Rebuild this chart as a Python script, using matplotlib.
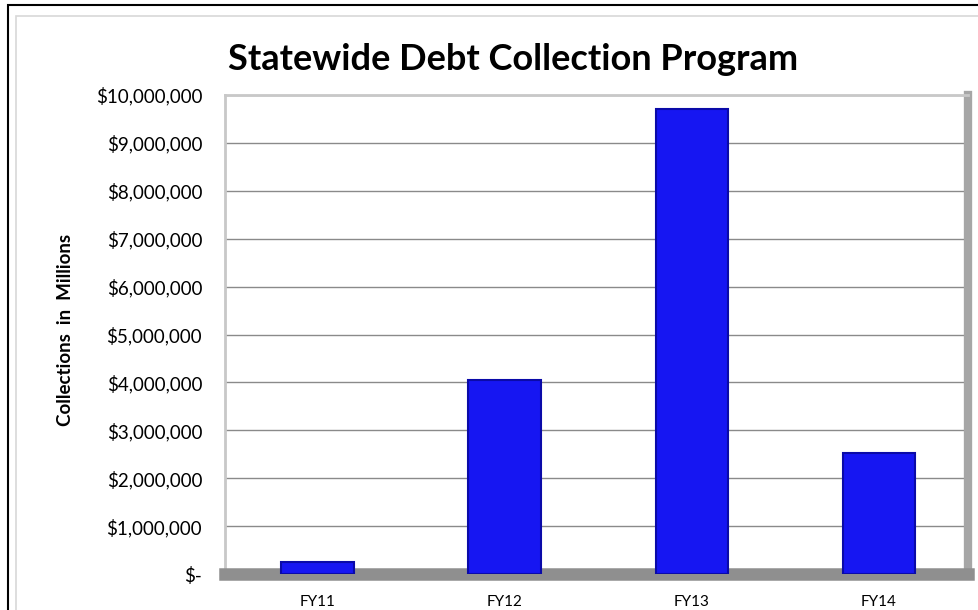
import matplotlib
matplotlib.use("Agg")
import matplotlib.pyplot as plt
from matplotlib.patches import Rectangle
from matplotlib.ticker import FuncFormatter

years = ["FY11", "FY12", "FY13", "FY14"]
collections = [250000, 4050000, 9700000, 2520000]

plt.rcParams["font.family"] = ["Lato", "DejaVu Sans"]


def money(value, pos):
    if value == 0:
        return "$-"
    return "${:,.0f}".format(value)


fig = plt.figure(figsize=(9.79, 6.10), dpi=100)

# outer frame of the pasted chart (runs off right and bottom)
fig.patches.append(Rectangle((8 / 979, -0.05), 1.1, 1 - 5 / 610 + 0.05,
                             transform=fig.transFigure, fill=False,
                             edgecolor="black", linewidth=1.5))
fig.patches.append(Rectangle((16 / 979, -0.05), 1.1, 1 - 16 / 610 + 0.05,
                             transform=fig.transFigure, fill=False,
                             edgecolor="#d8d8d8", linewidth=1.2))

ax = fig.add_axes([225 / 979, 1 - 574 / 610, 743 / 979, 479 / 610])

x = range(len(years))
ax.bar(x, collections, width=0.39, color="#1616f2", edgecolor="#0a0aa8",
       linewidth=1.5, zorder=3)

ax.set_xlim(-0.497, 3.476)
ax.set_ylim(0, 10000000)
ax.set_yticks(range(0, 10000001, 1000000))
ax.yaxis.set_major_formatter(FuncFormatter(money))
ax.set_xticks(list(x))
ax.set_xticklabels(years)
ax.tick_params(axis="y", length=0, pad=16.5, labelsize=13.5)
ax.tick_params(axis="x", length=0, pad=15, labelsize=11)
ax.grid(axis="y", color="#8a8a8a", linewidth=1, zorder=1)

for side in ["left", "top"]:
    ax.spines[side].set_color("#c8c8c8")
    ax.spines[side].set_linewidth(2)
ax.spines["right"].set_color("#a6a6a6")
ax.spines["right"].set_linewidth(6)
ax.spines["bottom"].set_color("#8f8f8f")
ax.spines["bottom"].set_linewidth(9)

fig.text(66 / 979, 1 - 330 / 610, "Collections  in  Millions", rotation=90,
         ha="center", va="center", fontsize=13.5, fontweight="bold")
fig.text(513 / 979, 1 - 60 / 610, "Statewide Debt Collection Program",
         ha="center", va="center", fontsize=26, fontweight="bold")

plt.savefig("out.png", dpi=100)
